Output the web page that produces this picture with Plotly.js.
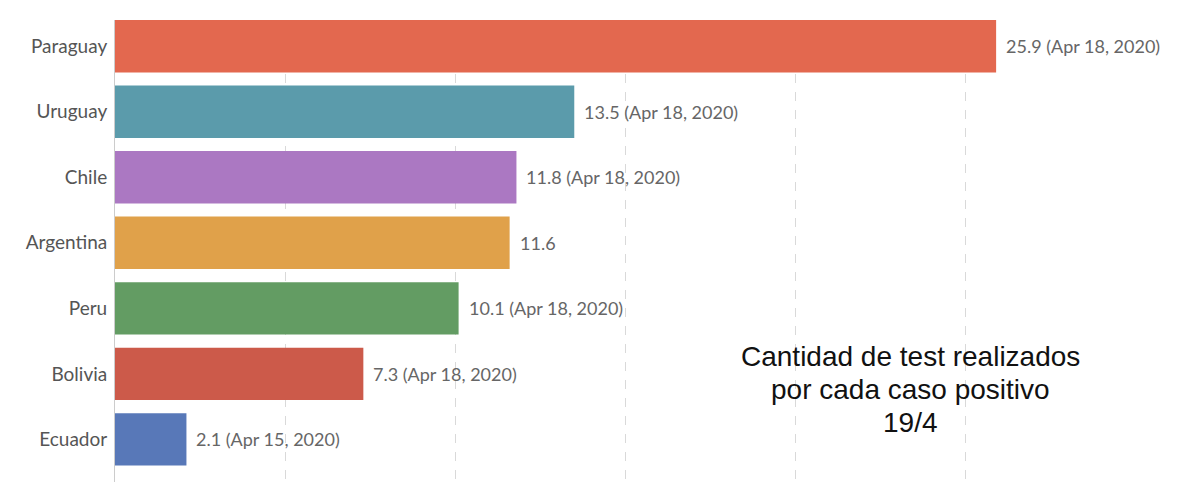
<!DOCTYPE html>
<html>
<head>
<meta charset="utf-8">
<script src="https://cdn.plot.ly/plotly-3.0.1.min.js"></script>
<style>html,body{margin:0;padding:0;background:#fff;}#chart{width:1200px;height:482px;}</style>
</head>
<body>
<div id="chart"></div>
<script>
const countries = ["Paraguay", "Uruguay", "Chile", "Argentina", "Peru", "Bolivia", "Ecuador"];
const values = [25.9, 13.5, 11.8, 11.6, 10.1, 7.3, 2.1];
const dates = ["Apr 18, 2020", "Apr 18, 2020", "Apr 18, 2020", "", "Apr 18, 2020", "Apr 18, 2020", "Apr 15, 2020"];
const colors = ["#e3684f", "#5b9bab", "#ab78c2", "#e0a14a", "#639c63", "#cc5a4a", "#5878b8"];
const noteLines = ["Cantidad de test realizados", "por cada caso positivo", "19/4"];

const labels = values.map((v, i) => dates[i] ? v.toFixed(1) + " (" + dates[i] + ")" : v.toFixed(1));

const L = 115, R = 98, W = 1200, H = 482, T = 20, B = 0;
const pw = W - L - R, ph = H - T - B;

const trace = {
  type: "bar",
  orientation: "h",
  y: countries,
  x: values,
  width: 0.8,
  marker: {color: colors},
  hoverinfo: "none"
};

const annotations = values.map((v, i) => ({
  x: v, y: countries[i], xref: "x", yref: "y",
  text: labels[i], showarrow: false, xanchor: "left", xshift: 8,
  font: {family: "Lato, sans-serif", size: 18, color: "#666"}
}));
const noteY = [356, 389, 422];
noteLines.forEach((t, i) => {
  annotations.push({
    xref: "paper", yref: "paper", x: (910 - L) / pw, y: (H - B - noteY[i]) / ph,
    text: t, showarrow: false, xanchor: "center", yanchor: "middle",
    font: {family: "Liberation Sans, Arial, sans-serif", size: 28, color: "#111"}
  });
});

const layout = {
  width: W, height: H,
  margin: {l: L, r: R, t: T, b: B},
  paper_bgcolor: "#fff", plot_bgcolor: "#fff",
  showlegend: false,
  xaxis: {
    range: [0, pw / 34.02],
    showticklabels: false, ticks: "",
    showgrid: true, gridcolor: "#d9d9d9", griddash: "dash", gridwidth: 1,
    dtick: 5, tick0: 0, zeroline: false, showline: false, fixedrange: true
  },
  yaxis: {
    type: "category",
    range: [6.65, -0.4],
    showgrid: false, zeroline: false,
    showline: true, linecolor: "#ccc", linewidth: 1,
    ticks: "", ticklabelstandoff: 3,
    tickfont: {family: "Lato, sans-serif", size: 19, color: "#555"},
    fixedrange: true
  },
  annotations: annotations
};

Plotly.newPlot("chart", [trace], layout, {displayModeBar: false, staticPlot: true});
</script>
</body>
</html>
